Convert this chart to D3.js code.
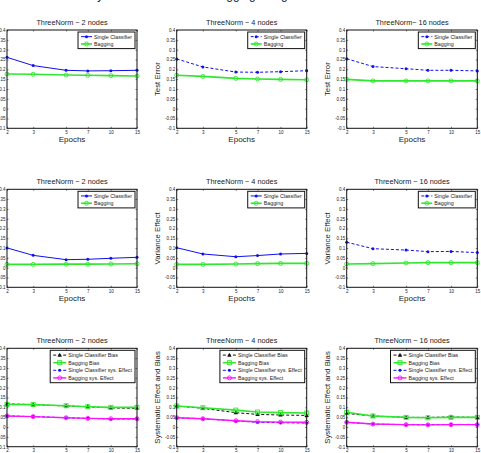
<!DOCTYPE html>
<html>
<head>
<meta charset="utf-8">
<script src="https://cdn.jsdelivr.net/npm/d3@7"></script>
<style>
  body { margin: 0; background: #fff; }
  text { font-family: "Liberation Sans", Arial, sans-serif; fill: #222; }
</style>
</head>
<body>
<svg id="chart" width="481" height="453"></svg>
<script>
// values
const epochs = [2, 3, 5, 7, 10, 15];
const yTicks = [-0.1, -0.05, 0, 0.05, 0.1, 0.15, 0.2, 0.25, 0.3, 0.35, 0.4];
const nodeTitles = [
  ['ThreeNorm − 2 nodes', 'ThreeNorm − 4 nodes', 'ThreeNorm− 16 nodes'],
  ['ThreeNorm − 2 nodes', 'ThreeNorm − 4 nodes', 'ThreeNorm − 16 nodes'],
  ['ThreeNorm − 2 nodes', 'ThreeNorm − 4 nodes', 'ThreeNorm − 16 nodes']
];
const yLabels = ['Test Error', 'Variance Effect', 'Systematic Effect and Bias'];

// row 1: test error (2, 4, 16 nodes)
const errSingle = [
  [0.261, 0.219, 0.195, 0.192, 0.193, 0.195],
  [0.253, 0.212, 0.186, 0.185, 0.188, 0.193],
  [0.254, 0.214, 0.203, 0.195, 0.195, 0.192]
];
const errBagging = [
  [0.176, 0.175, 0.171, 0.170, 0.168, 0.166],
  [0.170, 0.164, 0.154, 0.151, 0.149, 0.147],
  [0.149, 0.141, 0.141, 0.141, 0.141, 0.141]
];
// row 2: variance effect
const varSingle = [
  [0.101, 0.063, 0.041, 0.043, 0.048, 0.053],
  [0.102, 0.070, 0.056, 0.062, 0.070, 0.073],
  [0.130, 0.097, 0.090, 0.082, 0.083, 0.077]
];
const varBagging = [
  [0.017, 0.017, 0.018, 0.018, 0.019, 0.020],
  [0.017, 0.017, 0.019, 0.021, 0.022, 0.022],
  [0.019, 0.021, 0.024, 0.026, 0.026, 0.026]
];
// row 3: bias and systematic effect
const biasSingle = [
  [0.117, 0.114, 0.107, 0.103, 0.097, 0.095],
  [0.107, 0.095, 0.073, 0.064, 0.061, 0.059],
  [0.069, 0.056, 0.049, 0.049, 0.051, 0.049]
];
const biasBagging = [
  [0.115, 0.114, 0.108, 0.103, 0.100, 0.100],
  [0.107, 0.098, 0.086, 0.076, 0.073, 0.071],
  [0.075, 0.056, 0.049, 0.047, 0.049, 0.049]
];
const sysSingle = [
  [0.056, 0.053, 0.047, 0.044, 0.041, 0.041],
  [0.047, 0.042, 0.031, 0.024, 0.022, 0.020],
  [0.024, 0.015, 0.012, 0.012, 0.013, 0.013]
];
const sysBagging = [
  [0.056, 0.053, 0.047, 0.044, 0.042, 0.042],
  [0.047, 0.042, 0.032, 0.027, 0.025, 0.024],
  [0.024, 0.015, 0.012, 0.011, 0.012, 0.012]
];

const BLUE = '#1010f0', GREEN = '#2ee82e', MAGENTA = '#ff10ff', BLACK = '#111';

const svg = d3.select('#chart');

// cut-off caption at the very top
svg.append('text').attr('x', 97).attr('y', -1).attr('text-anchor', 'middle')
  .style('font-size', '12px').text('by');
svg.append('text').attr('x', 213).attr('y', -1)
  .style('font-size', '12px').text('bagging using');

const colX = [[7, 137], [176.7, 306.7], [346.7, 477.3]];
const rowY = [[30, 128.3], [189.3, 287.3], [348.3, 446.7]];

function seriesFor(row, col) {
  if (row === 0 || row === 1) {
    const s = row === 0 ? errSingle : varSingle;
    const b = row === 0 ? errBagging : varBagging;
    const dashed = row === 0 ? col > 0 : col === 2;
    return [
      { name: 'Single Classifier', values: s[col], color: BLUE, dash: dashed ? '3,2' : null, width: 1, marker: 'dot' },
      { name: 'Bagging', values: b[col], color: GREEN, dash: null, width: 1.6, marker: 'circle' }
    ];
  }
  return [
    { name: 'Single Classifier Bias', values: biasSingle[col], color: BLACK, dash: '3,2', width: 1, marker: 'triangle' },
    { name: 'Bagging Bias', values: biasBagging[col], color: GREEN, dash: null, width: 1.6, marker: 'square' },
    { name: 'Single Classifier sys. Effect', values: sysSingle[col], color: BLUE, dash: '3,2', width: 1, marker: 'dot' },
    { name: 'Bagging sys. Effect', values: sysBagging[col], color: MAGENTA, dash: null, width: 1.4, marker: 'circle' }
  ];
}

function drawMarker(g, m, x, y, color) {
  if (m === 'dot') {
    g.append('circle').attr('cx', x).attr('cy', y).attr('r', 1.5).attr('fill', color);
  } else if (m === 'circle') {
    g.append('circle').attr('cx', x).attr('cy', y).attr('r', 2)
      .attr('fill', 'none').attr('stroke', color).attr('stroke-width', 0.9);
  } else if (m === 'square') {
    g.append('rect').attr('x', x - 2).attr('y', y - 2).attr('width', 4).attr('height', 4)
      .attr('fill', 'none').attr('stroke', color).attr('stroke-width', 0.9);
  } else if (m === 'triangle') {
    g.append('path').attr('d', `M${x},${y - 2.4}L${x + 2.2},${y + 1.6}L${x - 2.2},${y + 1.6}Z`)
      .attr('fill', color);
  }
}

for (let row = 0; row < 3; row++) {
  for (let col = 0; col < 3; col++) {
    const [x0, x1] = colX[col];
    const [y0, y1] = rowY[row];
    const x = d3.scaleLog().domain([2, 15]).range([x0, x1]);
    const y = d3.scaleLinear().domain([-0.1, 0.4]).range([y1, y0]);
    const g = svg.append('g');

    // axes, matlab style ticks pointing inward
    const fmt = d => String(+d.toFixed(2));
    g.append('g').attr('transform', `translate(${x0},0)`)
      .call(d3.axisLeft(y).tickValues(yTicks).tickFormat(fmt).tickSize(-1.5).tickPadding(1.5))
      .call(a => a.select('.domain').remove())
      .call(a => a.selectAll('text').style('font-size', '4.5px').attr('fill', '#222'));
    g.append('g').attr('transform', `translate(${x1},0)`)
      .call(d3.axisRight(y).tickValues(yTicks).tickFormat('').tickSize(-1.5))
      .call(a => a.select('.domain').remove());
    g.append('g').attr('transform', `translate(0,${y1})`)
      .call(d3.axisBottom(x).tickValues(epochs).tickFormat(d3.format('d')).tickSize(-1.5).tickPadding(2.5))
      .call(a => a.select('.domain').remove())
      .call(a => a.selectAll('text').style('font-size', '4.5px').attr('fill', '#222'));
    g.append('g').attr('transform', `translate(0,${y0})`)
      .call(d3.axisTop(x).tickValues(epochs).tickFormat('').tickSize(-1.5))
      .call(a => a.select('.domain').remove());
    g.selectAll('.tick line').attr('stroke', '#222').attr('stroke-width', 0.6);

    // lines
    const series = seriesFor(row, col);
    const line = d3.line().x((d, i) => x(epochs[i])).y(d => y(d));
    series.forEach(s => {
      g.append('path').datum(s.values)
        .attr('d', line)
        .attr('fill', 'none')
        .attr('stroke', s.color)
        .attr('stroke-width', s.width)
        .attr('stroke-dasharray', s.dash);
      s.values.forEach((v, i) => drawMarker(g, s.marker, x(epochs[i]), y(v), s.color));
    });

    // frame
    g.append('rect').attr('x', x0).attr('y', y0).attr('width', x1 - x0).attr('height', y1 - y0)
      .attr('fill', 'none').attr('stroke', '#111').attr('stroke-width', 1);

    // title and labels
    g.append('text').attr('x', (x0 + x1) / 2).attr('y', y0 - 5).attr('text-anchor', 'middle')
      .style('font-size', '7.3px').text(nodeTitles[row][col]);
    g.append('text').attr('x', (x0 + x1) / 2).attr('y', y1 + 14).attr('text-anchor', 'middle')
      .style('font-size', '8px').text('Epochs');
    g.append('text')
      .attr('transform', `translate(${x0 - 17},${(y0 + y1) / 2}) rotate(-90)`)
      .attr('text-anchor', 'middle')
      .style('font-size', '7.8px').text(yLabels[row]);

    // legend
    const lg = g.append('g');
    const rowH = row === 2 ? 7.6 : 7.3;
    const sampleW = row === 2 ? 13 : 11;
    const items = lg.selectAll('g.item').data(series).join('g').attr('class', 'item')
      .attr('transform', (d, i) => `translate(0,${i * rowH})`);
    items.each(function (d) {
      const it = d3.select(this);
      it.append('line').attr('x1', 0).attr('x2', sampleW).attr('y1', 0).attr('y2', 0)
        .attr('stroke', d.color).attr('stroke-width', d.width).attr('stroke-dasharray', d.dash);
      drawMarker(it, d.marker, sampleW / 2, 0, d.color);
      it.append('text').attr('x', sampleW + 2).attr('dy', '0.35em')
        .style('font-size', '5.3px').text(d.name);
    });
    const tw = d3.max(items.selectAll('text').nodes(), n => n.getComputedTextLength());
    const bw = sampleW + 2 + tw + 6;
    const bh = series.length * rowH + 2;
    const bx = x1 - 2 - bw, by = y0 + 2;
    lg.insert('rect', ':first-child').attr('x', -3).attr('y', -rowH / 2 - 1)
      .attr('width', bw).attr('height', bh)
      .attr('fill', '#fff').attr('stroke', '#111').attr('stroke-width', 1);
    lg.attr('transform', `translate(${bx + 3},${by + rowH / 2 + 1})`);
  }
}
</script>
</body>
</html>
